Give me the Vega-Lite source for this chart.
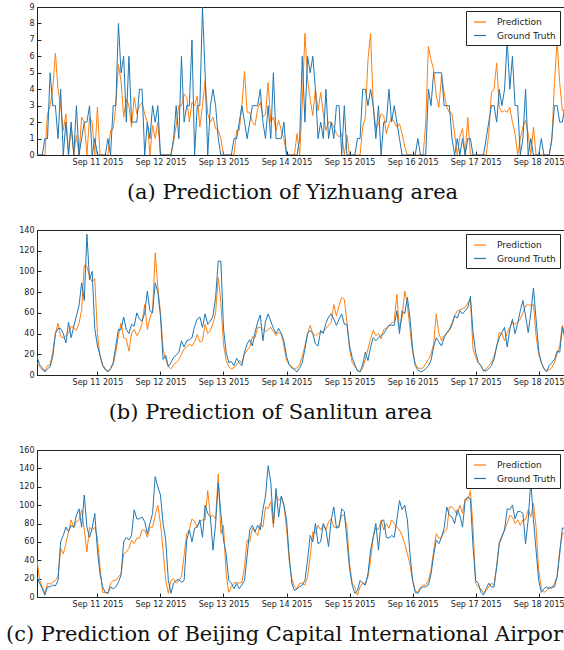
{
"$schema": "https://vega.github.io/schema/vega-lite/v6.json",
"background": "white",
"padding": {"left": 5, "top": 2, "right": 0, "bottom": 0},
"config": {
  "view": {"stroke": "#222", "strokeWidth": 1},
  "axis": {"labelFont": "DejaVu Sans", "labelFontSize": 8, "labelColor": "#222", "domainColor": "#222", "tickColor": "#222", "grid": false, "title": null, "tickSize": -4, "labelPadding": 7},
  "axisX": {"labelOverlap": false, "labelFlush": false},
  "legend": {"orient": "top-right", "offset": 4, "strokeColor": "#222", "fillColor": "white", "padding": 4, "symbolType": "stroke", "symbolSize": 144, "symbolStrokeWidth": 1.2, "labelFont": "DejaVu Sans", "labelFontSize": 9, "labelColor": "#222", "labelOffset": 10, "rowPadding": 1.5, "symbolOffset": 3, "cornerRadius": 0},
  "title": {"font": "DejaVu Serif", "fontSize": 21, "fontWeight": "normal", "color": "#111", "orient": "bottom", "anchor": "middle", "frame": "group", "offset": 16},
  "concat": {"spacing": 21}
},
"data": {"values": [
{"t":"2015-09-10T01:00","ap":0,"ag":0,"bp":12,"bg":18,"cp":40,"cg":22},
{"t":"2015-09-10T02:00","ap":0,"ag":0,"bp":8,"bg":10,"cp":18,"cg":15},
{"t":"2015-09-10T03:00","ap":0,"ag":0,"bp":5,"bg":7,"cp":11,"cg":9},
{"t":"2015-09-10T04:00","ap":0,"ag":1,"bp":4,"bg":3,"cp":4,"cg":2},
{"t":"2015-09-10T05:00","ap":2.5,"ag":1,"bp":9,"bg":6,"cp":15,"cg":11},
{"t":"2015-09-10T06:00","ap":3,"ag":5,"bp":10,"bg":8,"cp":14,"cg":11},
{"t":"2015-09-10T07:00","ap":4,"ag":3,"bp":22,"bg":18,"cp":16,"cg":13},
{"t":"2015-09-10T08:00","ap":6.2,"ag":3,"bp":40,"bg":40,"cp":18,"cg":12},
{"t":"2015-09-10T09:00","ap":4,"ag":1,"bp":50,"bg":45,"cp":22,"cg":18},
{"t":"2015-09-10T10:00","ap":3,"ag":4,"bp":37,"bg":45,"cp":53,"cg":60},
{"t":"2015-09-10T11:00","ap":1.5,"ag":0,"bp":36,"bg":40,"cp":47,"cg":67},
{"t":"2015-09-10T12:00","ap":2.5,"ag":2,"bp":38,"bg":31,"cp":58,"cg":76},
{"t":"2015-09-10T13:00","ap":0,"ag":0,"bp":40,"bg":51,"cp":71,"cg":71},
{"t":"2015-09-10T14:00","ap":1.7,"ag":2,"bp":47,"bg":36,"cp":84,"cg":78},
{"t":"2015-09-10T15:00","ap":0,"ag":0,"bp":46,"bg":47,"cp":75,"cg":76},
{"t":"2015-09-10T16:00","ap":1.2,"ag":3,"bp":43,"bg":57,"cp":82,"cg":89},
{"t":"2015-09-10T17:00","ap":0,"ag":0,"bp":50,"bg":67,"cp":84,"cg":96},
{"t":"2015-09-10T18:00","ap":2.3,"ag":1,"bp":63,"bg":89,"cp":95,"cg":76},
{"t":"2015-09-10T19:00","ap":2,"ag":2,"bp":106,"bg":72,"cp":73,"cg":111},
{"t":"2015-09-10T20:00","ap":0,"ag":2,"bp":105,"bg":136,"cp":49,"cg":76},
{"t":"2015-09-10T21:00","ap":2.3,"ag":3,"bp":95,"bg":92,"cp":76,"cg":65},
{"t":"2015-09-10T22:00","ap":2,"ag":0,"bp":90,"bg":100,"cp":73,"cg":75},
{"t":"2015-09-10T23:00","ap":0,"ag":1,"bp":93,"bg":45,"cp":76,"cg":91},
{"t":"2015-09-11T00:00","ap":2.9,"ag":0,"bp":40,"bg":28,"cp":64,"cg":51},
{"t":"2015-09-11T01:00","ap":0,"ag":0,"bp":18,"bg":19,"cp":33,"cg":25},
{"t":"2015-09-11T02:00","ap":0,"ag":0,"bp":10,"bg":9,"cp":5,"cg":11},
{"t":"2015-09-11T03:00","ap":0,"ag":0,"bp":6,"bg":5,"cp":5,"cg":5},
{"t":"2015-09-11T04:00","ap":0,"ag":1,"bp":4,"bg":3,"cp":4,"cg":4},
{"t":"2015-09-11T05:00","ap":1.5,"ag":0,"bp":6,"bg":6,"cp":15,"cg":11},
{"t":"2015-09-11T06:00","ap":1.6,"ag":3,"bp":10,"bg":12,"cp":18,"cg":9},
{"t":"2015-09-11T07:00","ap":3,"ag":3,"bp":22,"bg":28,"cp":18,"cg":11},
{"t":"2015-09-11T08:00","ap":5.5,"ag":8,"bp":38,"bg":44,"cp":22,"cg":16},
{"t":"2015-09-11T09:00","ap":4.5,"ag":5,"bp":50,"bg":44,"cp":25,"cg":24},
{"t":"2015-09-11T10:00","ap":2.3,"ag":6,"bp":36,"bg":56,"cp":47,"cg":60},
{"t":"2015-09-11T11:00","ap":3.4,"ag":2,"bp":35,"bg":44,"cp":49,"cg":65},
{"t":"2015-09-11T12:00","ap":3,"ag":6,"bp":23,"bg":40,"cp":53,"cg":62},
{"t":"2015-09-11T13:00","ap":1.7,"ag":2,"bp":40,"bg":49,"cp":62,"cg":67},
{"t":"2015-09-11T14:00","ap":3.5,"ag":2,"bp":44,"bg":47,"cp":58,"cg":95},
{"t":"2015-09-11T15:00","ap":2.5,"ag":2,"bp":38,"bg":60,"cp":64,"cg":85},
{"t":"2015-09-11T16:00","ap":3,"ag":4,"bp":42,"bg":54,"cp":64,"cg":85},
{"t":"2015-09-11T17:00","ap":3.2,"ag":4,"bp":50,"bg":52,"cp":73,"cg":87},
{"t":"2015-09-11T18:00","ap":2.5,"ag":0,"bp":68,"bg":60,"cp":73,"cg":82},
{"t":"2015-09-11T19:00","ap":2,"ag":2,"bp":44,"bg":81,"cp":65,"cg":69},
{"t":"2015-09-11T20:00","ap":0,"ag":1,"bp":55,"bg":62,"cp":76,"cg":80},
{"t":"2015-09-11T21:00","ap":1.8,"ag":3,"bp":62,"bg":60,"cp":76,"cg":91},
{"t":"2015-09-11T22:00","ap":1,"ag":2,"bp":118,"bg":89,"cp":89,"cg":131},
{"t":"2015-09-11T23:00","ap":2,"ag":3,"bp":85,"bg":80,"cp":100,"cg":120},
{"t":"2015-09-12T00:00","ap":0,"ag":0,"bp":60,"bg":57,"cp":80,"cg":111},
{"t":"2015-09-12T01:00","ap":0,"ag":0,"bp":25,"bg":15,"cp":51,"cg":80},
{"t":"2015-09-12T02:00","ap":0,"ag":0,"bp":15,"bg":19,"cp":18,"cg":62},
{"t":"2015-09-12T03:00","ap":0,"ag":0,"bp":8,"bg":8,"cp":4,"cg":18},
{"t":"2015-09-12T04:00","ap":0,"ag":0,"bp":6,"bg":12,"cp":18,"cg":4},
{"t":"2015-09-12T05:00","ap":0.8,"ag":1,"bp":10,"bg":17,"cp":20,"cg":15},
{"t":"2015-09-12T06:00","ap":1.8,"ag":3,"bp":12,"bg":19,"cp":15,"cg":18},
{"t":"2015-09-12T07:00","ap":3,"ag":1,"bp":15,"bg":22,"cp":18,"cg":19},
{"t":"2015-09-12T08:00","ap":3,"ag":6,"bp":20,"bg":33,"cp":22,"cg":16},
{"t":"2015-09-12T09:00","ap":3.7,"ag":2,"bp":25,"bg":27,"cp":45,"cg":18},
{"t":"2015-09-12T10:00","ap":3.5,"ag":3,"bp":27,"bg":33,"cp":69,"cg":62},
{"t":"2015-09-12T11:00","ap":2,"ag":3,"bp":30,"bg":34,"cp":73,"cg":73},
{"t":"2015-09-12T12:00","ap":3.2,"ag":7,"bp":28,"bg":36,"cp":85,"cg":60},
{"t":"2015-09-12T13:00","ap":3,"ag":0,"bp":32,"bg":47,"cp":82,"cg":75},
{"t":"2015-09-12T14:00","ap":3.6,"ag":3,"bp":39,"bg":54,"cp":76,"cg":76},
{"t":"2015-09-12T15:00","ap":1.7,"ag":3,"bp":32,"bg":56,"cp":82,"cg":84},
{"t":"2015-09-12T16:00","ap":3,"ag":9,"bp":33,"bg":46,"cp":84,"cg":65},
{"t":"2015-09-12T17:00","ap":4.5,"ag":5,"bp":49,"bg":59,"cp":84,"cg":100},
{"t":"2015-09-12T18:00","ap":2.5,"ag":0,"bp":40,"bg":49,"cp":116,"cg":91},
{"t":"2015-09-12T19:00","ap":2,"ag":3,"bp":43,"bg":52,"cp":87,"cg":87},
{"t":"2015-09-12T20:00","ap":2.3,"ag":4,"bp":50,"bg":57,"cp":89,"cg":51},
{"t":"2015-09-12T21:00","ap":1.6,"ag":3,"bp":60,"bg":75,"cp":85,"cg":80},
{"t":"2015-09-12T22:00","ap":1.5,"ag":1,"bp":94,"bg":110,"cp":134,"cg":124},
{"t":"2015-09-12T23:00","ap":1,"ag":0,"bp":70,"bg":110,"cp":69,"cg":91},
{"t":"2015-09-13T00:00","ap":0,"ag":0,"bp":30,"bg":45,"cp":78,"cg":62},
{"t":"2015-09-13T01:00","ap":0,"ag":0,"bp":14,"bg":22,"cp":25,"cg":47},
{"t":"2015-09-13T02:00","ap":0,"ag":0,"bp":8,"bg":12,"cp":5,"cg":18},
{"t":"2015-09-13T03:00","ap":0,"ag":0,"bp":6,"bg":13,"cp":11,"cg":15},
{"t":"2015-09-13T04:00","ap":0,"ag":1,"bp":7,"bg":9,"cp":15,"cg":9},
{"t":"2015-09-13T05:00","ap":1.5,"ag":1,"bp":10,"bg":16,"cp":16,"cg":15},
{"t":"2015-09-13T06:00","ap":1.5,"ag":2,"bp":14,"bg":12,"cp":15,"cg":9},
{"t":"2015-09-13T07:00","ap":3,"ag":3,"bp":12,"bg":9,"cp":16,"cg":13},
{"t":"2015-09-13T08:00","ap":5.1,"ag":2,"bp":20,"bg":22,"cp":33,"cg":18},
{"t":"2015-09-13T09:00","ap":2.6,"ag":1,"bp":24,"bg":30,"cp":62,"cg":45},
{"t":"2015-09-13T10:00","ap":2.6,"ag":2,"bp":27,"bg":34,"cp":60,"cg":73},
{"t":"2015-09-13T11:00","ap":2,"ag":3,"bp":37,"bg":28,"cp":75,"cg":78},
{"t":"2015-09-13T12:00","ap":1.8,"ag":3,"bp":36,"bg":41,"cp":71,"cg":71},
{"t":"2015-09-13T13:00","ap":2.8,"ag":3,"bp":46,"bg":51,"cp":67,"cg":78},
{"t":"2015-09-13T14:00","ap":3.2,"ag":4,"bp":46,"bg":58,"cp":80,"cg":73},
{"t":"2015-09-13T15:00","ap":2.3,"ag":2,"bp":44,"bg":33,"cp":76,"cg":95},
{"t":"2015-09-13T16:00","ap":2.5,"ag":1,"bp":42,"bg":52,"cp":98,"cg":110},
{"t":"2015-09-13T17:00","ap":4.4,"ag":3,"bp":44,"bg":59,"cp":96,"cg":143},
{"t":"2015-09-13T18:00","ap":2,"ag":1,"bp":46,"bg":52,"cp":104,"cg":125},
{"t":"2015-09-13T19:00","ap":2.3,"ag":5,"bp":42,"bg":45,"cp":76,"cg":80},
{"t":"2015-09-13T20:00","ap":1.5,"ag":1,"bp":38,"bg":40,"cp":111,"cg":118},
{"t":"2015-09-13T21:00","ap":2.1,"ag":1,"bp":41,"bg":45,"cp":105,"cg":87},
{"t":"2015-09-13T22:00","ap":1.5,"ag":1,"bp":40,"bg":40,"cp":108,"cg":110},
{"t":"2015-09-13T23:00","ap":1,"ag":2,"bp":28,"bg":33,"cp":100,"cg":100},
{"t":"2015-09-14T00:00","ap":0,"ag":0,"bp":14,"bg":18,"cp":75,"cg":84},
{"t":"2015-09-14T01:00","ap":0,"ag":0,"bp":10,"bg":10,"cp":40,"cg":45},
{"t":"2015-09-14T02:00","ap":0,"ag":0,"bp":8,"bg":7,"cp":20,"cg":15},
{"t":"2015-09-14T03:00","ap":0,"ag":0,"bp":6,"bg":5,"cp":11,"cg":7},
{"t":"2015-09-14T04:00","ap":1.3,"ag":0,"bp":7,"bg":3,"cp":9,"cg":9},
{"t":"2015-09-14T05:00","ap":0,"ag":1,"bp":10,"bg":7,"cp":15,"cg":11},
{"t":"2015-09-14T06:00","ap":3.2,"ag":6,"bp":18,"bg":12,"cp":15,"cg":13},
{"t":"2015-09-14T07:00","ap":7.4,"ag":2,"bp":28,"bg":25,"cp":13,"cg":18},
{"t":"2015-09-14T08:00","ap":4.6,"ag":6,"bp":40,"bg":40,"cp":22,"cg":40},
{"t":"2015-09-14T09:00","ap":3.4,"ag":5,"bp":48,"bg":43,"cp":44,"cg":67},
{"t":"2015-09-14T10:00","ap":2.4,"ag":6,"bp":40,"bg":40,"cp":71,"cg":60},
{"t":"2015-09-14T11:00","ap":4,"ag":4,"bp":38,"bg":30,"cp":69,"cg":80},
{"t":"2015-09-14T12:00","ap":2.7,"ag":1,"bp":40,"bg":28,"cp":78,"cg":58},
{"t":"2015-09-14T13:00","ap":3.8,"ag":2,"bp":41,"bg":43,"cp":73,"cg":60},
{"t":"2015-09-14T14:00","ap":2.5,"ag":1,"bp":42,"bg":40,"cp":78,"cg":80},
{"t":"2015-09-14T15:00","ap":1.5,"ag":4,"bp":45,"bg":50,"cp":73,"cg":73},
{"t":"2015-09-14T16:00","ap":2,"ag":1,"bp":48,"bg":56,"cp":82,"cg":55},
{"t":"2015-09-14T17:00","ap":2,"ag":2,"bp":51,"bg":59,"cp":85,"cg":84},
{"t":"2015-09-14T18:00","ap":1.7,"ag":1,"bp":68,"bg":54,"cp":76,"cg":98},
{"t":"2015-09-14T19:00","ap":1.3,"ag":3,"bp":57,"bg":48,"cp":76,"cg":75},
{"t":"2015-09-14T20:00","ap":1.1,"ag":3,"bp":67,"bg":54,"cp":78,"cg":76},
{"t":"2015-09-14T21:00","ap":1.3,"ag":0,"bp":75,"bg":59,"cp":89,"cg":96},
{"t":"2015-09-14T22:00","ap":0,"ag":3,"bp":73,"bg":49,"cp":89,"cg":93},
{"t":"2015-09-14T23:00","ap":1.2,"ag":0,"bp":51,"bg":49,"cp":76,"cg":62},
{"t":"2015-09-15T00:00","ap":0,"ag":0,"bp":25,"bg":28,"cp":36,"cg":31},
{"t":"2015-09-15T01:00","ap":0,"ag":0,"bp":12,"bg":17,"cp":15,"cg":13},
{"t":"2015-09-15T02:00","ap":0,"ag":0,"bp":8,"bg":10,"cp":11,"cg":4},
{"t":"2015-09-15T03:00","ap":0,"ag":1,"bp":5,"bg":4,"cp":2,"cg":7},
{"t":"2015-09-15T04:00","ap":0,"ag":1,"bp":3,"bg":3,"cp":11,"cg":18},
{"t":"2015-09-15T05:00","ap":1.7,"ag":4,"bp":7,"bg":10,"cp":15,"cg":15},
{"t":"2015-09-15T06:00","ap":2.3,"ag":4,"bp":15,"bg":22,"cp":15,"cg":13},
{"t":"2015-09-15T07:00","ap":5.8,"ag":3,"bp":25,"bg":14,"cp":22,"cg":25},
{"t":"2015-09-15T08:00","ap":7.4,"ag":4,"bp":35,"bg":27,"cp":40,"cg":51},
{"t":"2015-09-15T09:00","ap":3,"ag":3,"bp":43,"bg":36,"cp":65,"cg":65},
{"t":"2015-09-15T10:00","ap":1.6,"ag":1,"bp":38,"bg":33,"cp":76,"cg":80},
{"t":"2015-09-15T11:00","ap":1.9,"ag":3,"bp":40,"bg":36,"cp":73,"cg":51},
{"t":"2015-09-15T12:00","ap":2.5,"ag":0,"bp":35,"bg":38,"cp":84,"cg":82},
{"t":"2015-09-15T13:00","ap":2.4,"ag":2,"bp":44,"bg":40,"cp":73,"cg":84},
{"t":"2015-09-15T14:00","ap":1.3,"ag":2,"bp":45,"bg":44,"cp":80,"cg":65},
{"t":"2015-09-15T15:00","ap":1.9,"ag":4,"bp":48,"bg":48,"cp":75,"cg":64},
{"t":"2015-09-15T16:00","ap":2.3,"ag":2,"bp":50,"bg":48,"cp":84,"cg":67},
{"t":"2015-09-15T17:00","ap":2,"ag":3,"bp":52,"bg":48,"cp":80,"cg":65},
{"t":"2015-09-15T18:00","ap":1.7,"ag":2,"bp":78,"bg":62,"cp":76,"cg":84},
{"t":"2015-09-15T19:00","ap":1.9,"ag":1,"bp":44,"bg":40,"cp":73,"cg":105},
{"t":"2015-09-15T20:00","ap":1.3,"ag":0,"bp":56,"bg":62,"cp":67,"cg":95},
{"t":"2015-09-15T21:00","ap":0.5,"ag":0,"bp":81,"bg":59,"cp":58,"cg":100},
{"t":"2015-09-15T22:00","ap":0,"ag":0,"bp":68,"bg":75,"cp":47,"cg":84},
{"t":"2015-09-15T23:00","ap":0,"ag":0,"bp":44,"bg":55,"cp":35,"cg":47},
{"t":"2015-09-16T00:00","ap":0,"ag":0,"bp":22,"bg":25,"cp":18,"cg":18},
{"t":"2015-09-16T01:00","ap":0,"ag":0,"bp":11,"bg":9,"cp":7,"cg":5},
{"t":"2015-09-16T02:00","ap":0,"ag":1,"bp":7,"bg":5,"cp":5,"cg":4},
{"t":"2015-09-16T03:00","ap":0,"ag":0,"bp":6,"bg":3,"cp":11,"cg":9},
{"t":"2015-09-16T04:00","ap":0,"ag":0,"bp":7,"bg":4,"cp":13,"cg":11},
{"t":"2015-09-16T05:00","ap":2,"ag":0,"bp":11,"bg":6,"cp":13,"cg":11},
{"t":"2015-09-16T06:00","ap":6.6,"ag":4,"bp":15,"bg":9,"cp":18,"cg":13},
{"t":"2015-09-16T07:00","ap":5.8,"ag":3,"bp":20,"bg":14,"cp":29,"cg":25},
{"t":"2015-09-16T08:00","ap":5.2,"ag":5,"bp":30,"bg":27,"cp":50,"cg":45},
{"t":"2015-09-16T09:00","ap":3.6,"ag":5,"bp":59,"bg":36,"cp":69,"cg":62},
{"t":"2015-09-16T10:00","ap":2.9,"ag":5,"bp":40,"bg":32,"cp":64,"cg":58},
{"t":"2015-09-16T11:00","ap":4.8,"ag":5,"bp":33,"bg":28,"cp":65,"cg":65},
{"t":"2015-09-16T12:00","ap":3.8,"ag":3,"bp":38,"bg":36,"cp":71,"cg":75},
{"t":"2015-09-16T13:00","ap":2.9,"ag":3,"bp":40,"bg":41,"cp":73,"cg":98},
{"t":"2015-09-16T14:00","ap":2.6,"ag":3,"bp":43,"bg":44,"cp":98,"cg":89},
{"t":"2015-09-16T15:00","ap":2.5,"ag":1,"bp":48,"bg":50,"cp":98,"cg":87},
{"t":"2015-09-16T16:00","ap":1.3,"ag":0,"bp":57,"bg":57,"cp":95,"cg":80},
{"t":"2015-09-16T17:00","ap":0,"ag":1,"bp":62,"bg":55,"cp":89,"cg":95},
{"t":"2015-09-16T18:00","ap":1.1,"ag":0,"bp":63,"bg":62,"cp":100,"cg":89},
{"t":"2015-09-16T19:00","ap":1.6,"ag":1,"bp":64,"bg":59,"cp":91,"cg":76},
{"t":"2015-09-16T20:00","ap":0,"ag":0,"bp":65,"bg":62,"cp":107,"cg":105},
{"t":"2015-09-16T21:00","ap":2.3,"ag":1,"bp":70,"bg":65,"cp":105,"cg":109},
{"t":"2015-09-16T22:00","ap":0,"ag":1,"bp":73,"bg":76,"cp":116,"cg":107},
{"t":"2015-09-16T23:00","ap":0,"ag":0,"bp":25,"bg":41,"cp":76,"cg":55},
{"t":"2015-09-17T00:00","ap":0,"ag":0,"bp":17,"bg":22,"cp":15,"cg":18},
{"t":"2015-09-17T01:00","ap":0,"ag":0,"bp":12,"bg":12,"cp":11,"cg":15},
{"t":"2015-09-17T02:00","ap":0,"ag":0,"bp":9,"bg":9,"cp":9,"cg":5},
{"t":"2015-09-17T03:00","ap":0,"ag":0,"bp":4,"bg":4,"cp":4,"cg":2},
{"t":"2015-09-17T04:00","ap":0,"ag":1,"bp":6,"bg":4,"cp":7,"cg":9},
{"t":"2015-09-17T05:00","ap":1.3,"ag":2,"bp":9,"bg":6,"cp":11,"cg":15},
{"t":"2015-09-17T06:00","ap":3.8,"ag":3,"bp":12,"bg":9,"cp":15,"cg":11},
{"t":"2015-09-17T07:00","ap":4,"ag":3,"bp":18,"bg":15,"cp":13,"cg":11},
{"t":"2015-09-17T08:00","ap":5.6,"ag":2,"bp":27,"bg":28,"cp":33,"cg":33},
{"t":"2015-09-17T09:00","ap":2.9,"ag":4,"bp":41,"bg":36,"cp":60,"cg":58},
{"t":"2015-09-17T10:00","ap":2.6,"ag":3,"bp":40,"bg":41,"cp":67,"cg":65},
{"t":"2015-09-17T11:00","ap":2.7,"ag":4,"bp":33,"bg":46,"cp":73,"cg":73},
{"t":"2015-09-17T12:00","ap":2.6,"ag":7,"bp":41,"bg":27,"cp":80,"cg":96},
{"t":"2015-09-17T13:00","ap":2.9,"ag":4,"bp":46,"bg":44,"cp":89,"cg":95},
{"t":"2015-09-17T14:00","ap":2,"ag":6,"bp":51,"bg":54,"cp":87,"cg":100},
{"t":"2015-09-17T15:00","ap":1.3,"ag":3,"bp":49,"bg":40,"cp":80,"cg":85},
{"t":"2015-09-17T16:00","ap":0,"ag":3,"bp":51,"bg":50,"cp":84,"cg":93},
{"t":"2015-09-17T17:00","ap":1,"ag":0,"bp":54,"bg":62,"cp":78,"cg":93},
{"t":"2015-09-17T18:00","ap":1.7,"ag":1,"bp":60,"bg":72,"cp":84,"cg":91},
{"t":"2015-09-17T19:00","ap":2.1,"ag":4,"bp":67,"bg":57,"cp":84,"cg":58},
{"t":"2015-09-17T20:00","ap":1.3,"ag":0,"bp":68,"bg":41,"cp":95,"cg":84},
{"t":"2015-09-17T21:00","ap":0,"ag":1,"bp":67,"bg":60,"cp":87,"cg":127},
{"t":"2015-09-17T22:00","ap":1.7,"ag":0,"bp":68,"bg":84,"cp":102,"cg":84},
{"t":"2015-09-17T23:00","ap":0,"ag":0,"bp":38,"bg":54,"cp":76,"cg":51},
{"t":"2015-09-18T00:00","ap":0,"ag":0,"bp":20,"bg":23,"cp":29,"cg":18},
{"t":"2015-09-18T01:00","ap":0,"ag":1,"bp":12,"bg":12,"cp":9,"cg":5},
{"t":"2015-09-18T02:00","ap":0,"ag":0,"bp":6,"bg":6,"cp":5,"cg":9},
{"t":"2015-09-18T03:00","ap":0,"ag":0,"bp":4,"bg":3,"cp":7,"cg":11},
{"t":"2015-09-18T04:00","ap":0,"ag":0,"bp":5,"bg":9,"cp":11,"cg":9},
{"t":"2015-09-18T05:00","ap":0.9,"ag":1,"bp":7,"bg":12,"cp":9,"cg":11},
{"t":"2015-09-18T06:00","ap":4.4,"ag":3,"bp":12,"bg":15,"cp":15,"cg":11},
{"t":"2015-09-18T07:00","ap":7,"ag":3,"bp":20,"bg":23,"cp":22,"cg":22},
{"t":"2015-09-18T08:00","ap":4.4,"ag":2,"bp":28,"bg":22,"cp":51,"cg":47},
{"t":"2015-09-18T09:00","ap":2.7,"ag":2,"bp":48,"bg":46,"cp":69,"cg":75},
{"t":"2015-09-18T10:00","ap":2.7,"ag":3,"bp":38,"bg":35,"cp":69,"cg":75}
]},
"vconcat": [
 {
  "width": 527, "height": 148,
  "title": {"text": "(a) Prediction of Yizhuang area", "dx": -8},
  "encoding": {"x": {"field": "t", "type": "temporal", "scale": {"domain": [{"year": 2015, "month": 9, "date": 10, "hours": 1}, {"year": 2015, "month": 9, "date": 18, "hours": 9, "minutes": 38}]}, "axis": {"format": "%b %d %Y", "tickCount": {"interval": "day", "step": 1}}}},
  "layer": [
   {"mark": {"type": "line", "clip": true, "strokeWidth": 1}, "encoding": {"y": {"field": "ap", "type": "quantitative", "scale": {"domain": [0, 9], "nice": false}, "axis": {"values": [0,1,2,3,4,5,6,7,8,9]}}, "color": {"datum": "Prediction", "scale": {"domain": ["Prediction", "Ground Truth"], "range": ["#ff7f0e", "#1f77b4"]}, "legend": {"title": null}}}},
   {"mark": {"type": "line", "clip": true, "strokeWidth": 1}, "encoding": {"y": {"field": "ag", "type": "quantitative", "scale": {"domain": [0, 9], "nice": false}, "axis": {"values": [0,1,2,3,4,5,6,7,8,9]}}, "color": {"datum": "Ground Truth"}}}
  ]
 },
 {
  "width": 527, "height": 145,
  "title": {"text": "(b) Prediction of Sanlitun area", "dx": -30},
  "encoding": {"x": {"field": "t", "type": "temporal", "scale": {"domain": [{"year": 2015, "month": 9, "date": 10, "hours": 1}, {"year": 2015, "month": 9, "date": 18, "hours": 9, "minutes": 38}]}, "axis": {"format": "%b %d %Y", "tickCount": {"interval": "day", "step": 1}}}},
  "layer": [
   {"mark": {"type": "line", "clip": true, "strokeWidth": 1}, "encoding": {"y": {"field": "bp", "type": "quantitative", "scale": {"domain": [0, 140], "nice": false}, "axis": {"values": [0,20,40,60,80,100,120,140]}}, "color": {"datum": "Prediction", "scale": {"domain": ["Prediction", "Ground Truth"], "range": ["#ff7f0e", "#1f77b4"]}, "legend": {"title": null}}}},
   {"mark": {"type": "line", "clip": true, "strokeWidth": 1}, "encoding": {"y": {"field": "bg", "type": "quantitative", "scale": {"domain": [0, 140], "nice": false}, "axis": {"values": [0,20,40,60,80,100,120,140]}}, "color": {"datum": "Ground Truth"}}}
  ]
 },
 {
  "width": 527, "height": 147,
  "title": {"text": "(c) Prediction of Beijing Capital International Airpor", "dx": -16},
  "encoding": {"x": {"field": "t", "type": "temporal", "scale": {"domain": [{"year": 2015, "month": 9, "date": 10, "hours": 1}, {"year": 2015, "month": 9, "date": 18, "hours": 9, "minutes": 38}]}, "axis": {"format": "%b %d %Y", "tickCount": {"interval": "day", "step": 1}}}},
  "layer": [
   {"mark": {"type": "line", "clip": true, "strokeWidth": 1}, "encoding": {"y": {"field": "cp", "type": "quantitative", "scale": {"domain": [0, 160], "nice": false}, "axis": {"values": [0,20,40,60,80,100,120,140,160]}}, "color": {"datum": "Prediction", "scale": {"domain": ["Prediction", "Ground Truth"], "range": ["#ff7f0e", "#1f77b4"]}, "legend": {"title": null}}}},
   {"mark": {"type": "line", "clip": true, "strokeWidth": 1}, "encoding": {"y": {"field": "cg", "type": "quantitative", "scale": {"domain": [0, 160], "nice": false}, "axis": {"values": [0,20,40,60,80,100,120,140,160]}}, "color": {"datum": "Ground Truth"}}}
  ]
 }
],
"resolve": {"scale": {"color": "independent"}, "legend": {"color": "independent"}}
}
